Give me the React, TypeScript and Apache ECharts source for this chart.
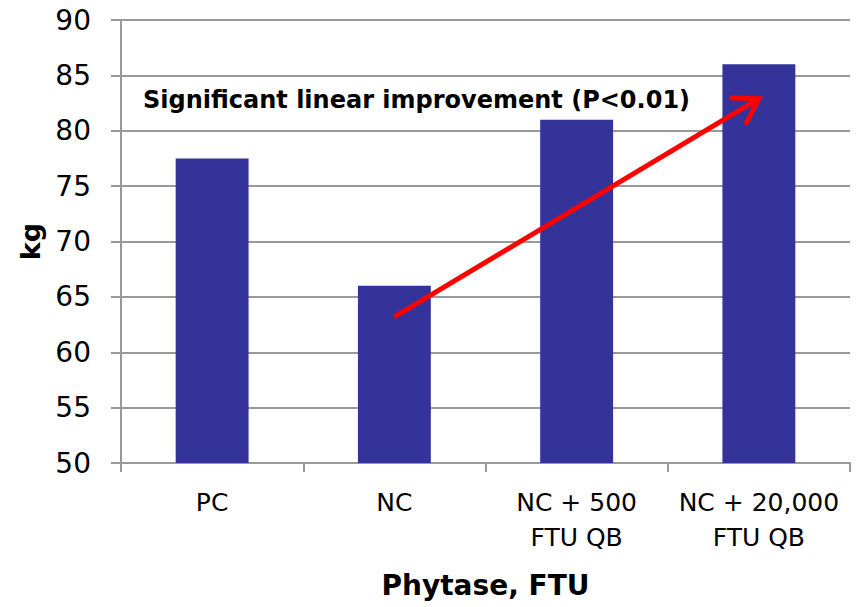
import React, { useEffect, useRef } from "react";
import * as echarts from "echarts";

const categories = ["PC", "NC", "NC + 500\nFTU QB", "NC + 20,000\nFTU QB"];
const values = [77.5, 66, 81, 86];
const yTicks = { min: 50, max: 90, interval: 5 };
const annotationText = "Significant linear improvement (P<0.01)";
// arrow endpoints in data space: [category index, value]
const arrowStart = [1.03, 63.2];
const arrowEnd = [3.01, 82.9];

const FONT = "DejaVu Sans";

export default function App() {
  const ref = useRef<HTMLDivElement>(null);
  useEffect(() => {
    const chart = echarts.init(ref.current!, null, { renderer: "svg" });
    chart.setOption({
      animation: false,
      backgroundColor: "#ffffff",
      grid: { left: 121, right: 6, top: 20, bottom: 144 },
      xAxis: {
        type: "category",
        data: categories,
        name: "Phytase, FTU",
        nameLocation: "middle",
        nameGap: 108,
        nameTextStyle: { fontFamily: FONT, fontWeight: "bold", fontSize: 28, color: "#000" },
        axisLine: { lineStyle: { color: "#999", width: 2 } },
        axisTick: { show: true, length: 9, lineStyle: { color: "#999", width: 2 } },
        axisLabel: {
          fontFamily: FONT,
          fontSize: 25,
          lineHeight: 35,
          color: "#000",
          margin: 22,
          interval: 0,
        },
      },
      yAxis: {
        type: "value",
        min: yTicks.min,
        max: yTicks.max,
        interval: yTicks.interval,
        name: "kg",
        nameLocation: "middle",
        nameGap: 75,
        nameRotate: 90,
        nameTextStyle: { fontFamily: FONT, fontWeight: "bold", fontSize: 27, color: "#000" },
        axisLine: { show: true, lineStyle: { color: "#999", width: 2 } },
        axisTick: { show: true, length: 10, lineStyle: { color: "#999", width: 2 } },
        splitLine: { show: true, lineStyle: { color: "#999", width: 2 } },
        axisLabel: { fontFamily: FONT, fontSize: 28, color: "#000", margin: 30 },
      },
      series: [
        {
          type: "bar",
          data: values,
          barWidth: "40%",
          itemStyle: { color: "#333399" },
        },
      ],
    });

    const p0 = chart.convertToPixel({ gridIndex: 0 }, arrowStart) as number[];
    const p1 = chart.convertToPixel({ gridIndex: 0 }, arrowEnd) as number[];
    const ang = Math.atan2(p1[1] - p0[1], p1[0] - p0[0]);
    const headLen = 27;
    const spread = (32 * Math.PI) / 180;
    const a1 = [p1[0] - headLen * Math.cos(ang - spread), p1[1] - headLen * Math.sin(ang - spread)];
    const a2 = [p1[0] - headLen * Math.cos(ang + spread), p1[1] - headLen * Math.sin(ang + spread)];

    chart.setOption({
      graphic: [
        {
          type: "text",
          x: 143,
          y: 100,
          style: {
            text: annotationText,
            fontFamily: FONT,
            fontWeight: "bold",
            fontSize: 24,
            fill: "#000",
            textVerticalAlign: "middle",
          },
          z: 10,
        },
        {
          type: "line",
          shape: { x1: p0[0], y1: p0[1], x2: p1[0], y2: p1[1] },
          style: { stroke: "#ff0000", lineWidth: 5 },
          z: 10,
        },
        {
          type: "polyline",
          shape: { points: [a1, p1, a2] },
          style: { stroke: "#ff0000", lineWidth: 5, lineCap: "round", lineJoin: "miter", fill: "none" },
          z: 10,
        },
      ],
    });

    return () => chart.dispose();
  }, []);
  return <div ref={ref} style={{ width: 856, height: 607, position: "absolute", left: 0, top: 0 }} />;
}
